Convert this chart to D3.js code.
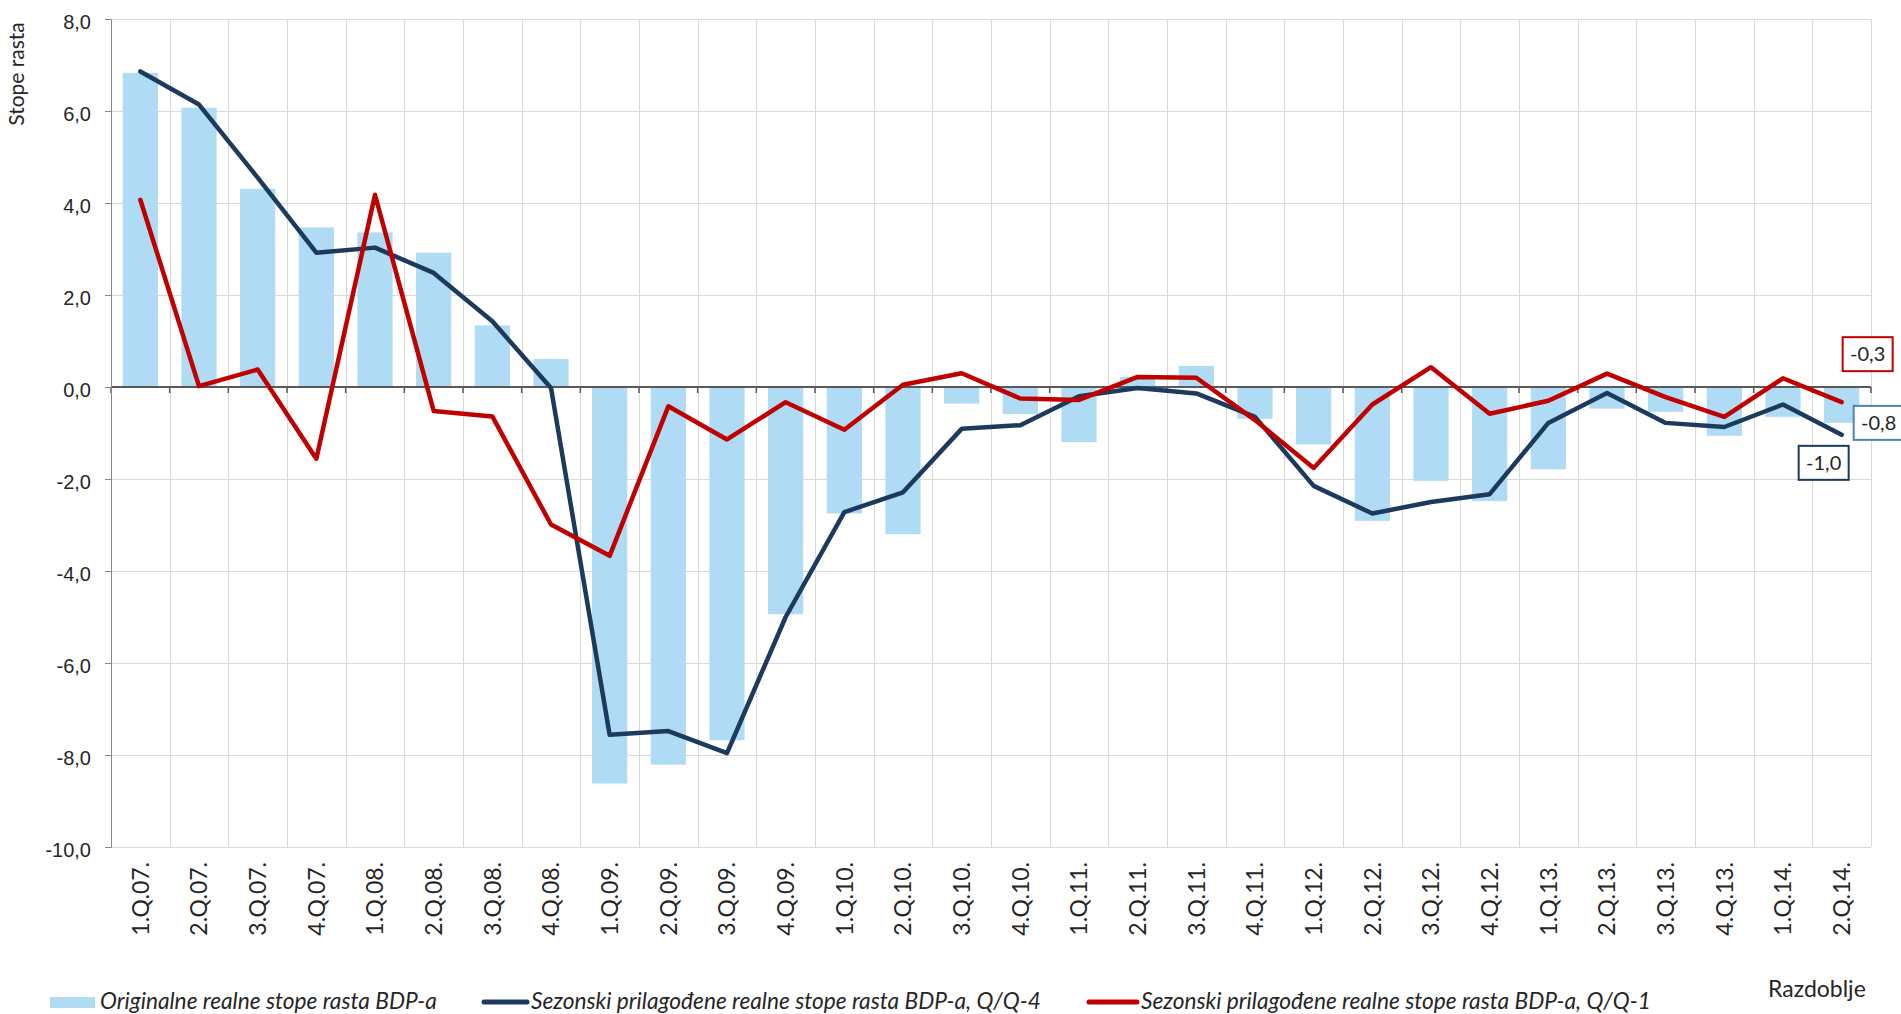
<!DOCTYPE html>
<html>
<head>
<meta charset="utf-8">
<script src="https://cdn.jsdelivr.net/npm/d3@7"></script>
<style>
  body { margin: 0; background: #fff; }
  svg { display: block; font-family: Lato, 'Noto Sans', sans-serif; }
  .tick-label { fill: #262626; font-size: 20px; }
  .x-label { fill: #262626; font-size: 23px; }
  .title-label { fill: #262626; font-size: 21px; }
  .legend-label { fill: #262626; font-size: 22.7px; font-style: italic; }
</style>
</head>
<body>
<div id="wrapper"></div>
<script>
const categories = [
  '1.Q.07.', '2.Q.07.', '3.Q.07.', '4.Q.07.',
  '1.Q.08.', '2.Q.08.', '3.Q.08.', '4.Q.08.',
  '1.Q.09.', '2.Q.09.', '3.Q.09.', '4.Q.09.',
  '1.Q.10.', '2.Q.10.', '3.Q.10.', '4.Q.10.',
  '1.Q.11.', '2.Q.11.', '3.Q.11.', '4.Q.11.',
  '1.Q.12.', '2.Q.12.', '3.Q.12.', '4.Q.12.',
  '1.Q.13.', '2.Q.13.', '3.Q.13.', '4.Q.13.',
  '1.Q.14.', '2.Q.14.',
]
// Originalne realne stope rasta BDP-a (bars)
const originalRates = [
  6.83, 6.07, 4.31, 3.47, 3.36, 2.92, 1.34, 0.61,
  -8.62, -8.21, -7.68, -4.94, -2.75, -3.2, -0.36, -0.59,
  -1.2, 0.22, 0.46, -0.69, -1.25, -2.91, -2.04, -2.48,
  -1.79, -0.47, -0.54, -1.06, -0.65, -0.78,
]
// Sezonski prilagođene, Q/Q-4
const yoyRates = [
  6.86, 6.14, 4.55, 2.92, 3.03, 2.48, 1.43, -0.02,
  -7.56, -7.48, -7.96, -5.0, -2.72, -2.29, -0.91, -0.83,
  -0.2, -0.02, -0.14, -0.65, -2.15, -2.75, -2.5, -2.33,
  -0.78, -0.13, -0.78, -0.87, -0.38, -1.04,
]
// Sezonski prilagođene, Q/Q-1
const qoqRates = [
  4.07, 0.02, 0.38, -1.56, 4.18, -0.52, -0.64, -2.99,
  -3.67, -0.42, -1.14, -0.33, -0.93, 0.05, 0.3, -0.25,
  -0.28, 0.22, 0.2, -0.72, -1.76, -0.38, 0.43, -0.58,
  -0.3, 0.29, -0.22, -0.65, 0.19, -0.33,
]
const yTicks = [-10, -8, -6, -4, -2, 0, 2, 4, 6, 8]

const seriesNames = [
  'Originalne realne stope rasta BDP-a',
  'Sezonski prilagođene realne stope rasta BDP-a, Q/Q-4',
  'Sezonski prilagođene realne stope rasta BDP-a, Q/Q-1',
]
const colors = { bar: '#afdbf5', yoy: '#1c3a5e', qoq: '#c00000', barLabel: '#4f81bd' }

function drawChart() {
  // 1. Data
  const dataset = categories.map((c, i) => ({
    cat: c,
    original: originalRates[i],
    yoy: yoyRates[i],
    qoq: qoqRates[i],
  }))
  const xAccessor = (d) => d.cat

  const locale = d3.formatLocale({
    decimal: ',', thousands: '.', grouping: [3], currency: ['', ''], minus: '-',
  })
  const fmt = locale.format('.1f')

  // 2. Dimensions
  let dimensions = {
    width: 1901,
    height: 1014,
    margin: { top: 19, right: 30, bottom: 167, left: 111 },
  }
  dimensions.boundedWidth = dimensions.width - dimensions.margin.left - dimensions.margin.right
  dimensions.boundedHeight = dimensions.height - dimensions.margin.top - dimensions.margin.bottom

  // 3. Canvas
  const wrapper = d3.select('#wrapper')
    .append('svg')
    .attr('width', dimensions.width)
    .attr('height', dimensions.height)

  const bounds = wrapper.append('g')
    .attr('transform', `translate(${dimensions.margin.left},${dimensions.margin.top})`)

  // 4. Scales
  const xScale = d3.scaleBand()
    .domain(categories)
    .range([0, dimensions.boundedWidth])
    .paddingInner(0.4)
    .paddingOuter(0.2)
  const step = xScale.step()
  const xCenter = (d) => xScale(xAccessor(d)) + xScale.bandwidth() / 2

  const yScale = d3.scaleLinear()
    .domain([-10, 8])
    .range([dimensions.boundedHeight, 0])

  // 5. Gridlines
  const boundaries = d3.range(categories.length + 1).map((i) => i * step)

  bounds.append('g')
    .selectAll('line')
    .data(yTicks)
    .join('line')
    .attr('x1', 0)
    .attr('x2', dimensions.boundedWidth)
    .attr('y1', (d) => Math.round(yScale(d)) + 0.5)
    .attr('y2', (d) => Math.round(yScale(d)) + 0.5)
    .attr('stroke', '#d9d9d9')

  bounds.append('g')
    .selectAll('line')
    .data(boundaries.slice(1))
    .join('line')
    .attr('x1', (d) => Math.round(d) + 0.5)
    .attr('x2', (d) => Math.round(d) + 0.5)
    .attr('y1', 0)
    .attr('y2', dimensions.boundedHeight)
    .attr('stroke', '#d9d9d9')

  // 6. Draw data
  bounds.append('g')
    .selectAll('rect')
    .data(dataset)
    .join('rect')
    .attr('x', (d) => xScale(xAccessor(d)))
    .attr('width', xScale.bandwidth())
    .attr('y', (d) => yScale(Math.max(0, d.original)))
    .attr('height', (d) => Math.abs(yScale(d.original) - yScale(0)))
    .attr('fill', colors.bar)

  // zero axis with ticks
  const zeroY = yScale(0)
  bounds.append('line')
    .attr('x1', 0)
    .attr('x2', dimensions.boundedWidth)
    .attr('y1', zeroY)
    .attr('y2', zeroY)
    .attr('stroke', '#595959')
    .attr('stroke-width', 2)
  bounds.append('g')
    .selectAll('line')
    .data(boundaries)
    .join('line')
    .attr('x1', (d) => d)
    .attr('x2', (d) => d)
    .attr('y1', zeroY)
    .attr('y2', zeroY + 6)
    .attr('stroke', '#595959')
    .attr('stroke-width', 1.5)

  const lineGenerator = (accessor) => d3.line()
    .x(xCenter)
    .y((d) => yScale(accessor(d)))

  bounds.append('path')
    .datum(dataset)
    .attr('d', lineGenerator((d) => d.yoy))
    .attr('fill', 'none')
    .attr('stroke', colors.yoy)
    .attr('stroke-width', 4.5)
    .attr('stroke-linejoin', 'round')
    .attr('stroke-linecap', 'round')

  bounds.append('path')
    .datum(dataset)
    .attr('d', lineGenerator((d) => d.qoq))
    .attr('fill', 'none')
    .attr('stroke', colors.qoq)
    .attr('stroke-width', 4.5)
    .attr('stroke-linejoin', 'round')
    .attr('stroke-linecap', 'round')

  // 7. Peripherals
  const yAxisGenerator = d3.axisLeft(yScale)
    .tickValues(yTicks)
    .tickSize(6)
    .tickPadding(14)
    .tickFormat(fmt)
  const yAxis = bounds.append('g').call(yAxisGenerator)
  yAxis.select('.domain').attr('stroke', '#868686')
  yAxis.selectAll('.tick line').attr('stroke', '#868686')
  yAxis.selectAll('.tick text')
    .attr('class', 'tick-label')
    .attr('font-family', null)
    .attr('font-size', null)
    .attr('dy', '0.45em')

  bounds.append('g')
    .selectAll('text')
    .data(dataset)
    .join('text')
    .attr('class', 'x-label')
    .attr('text-anchor', 'end')
    .attr('transform', (d) => `translate(${xCenter(d)},${dimensions.boundedHeight + 15}) rotate(-90)`)
    .attr('dy', '0.36em')
    .text(xAccessor)

  wrapper.append('text')
    .attr('class', 'title-label')
    .attr('text-anchor', 'middle')
    .attr('transform', 'translate(24,74) rotate(-90)')
    .text('Stope rasta')

  wrapper.append('text')
    .attr('class', 'x-label')
    .attr('x', 1768)
    .attr('y', 997)
    .text('Razdoblje')

  // data labels for the last quarter
  const last = dataset[dataset.length - 1]
  const lx = dimensions.margin.left + xCenter(last)
  const labels = [
    { value: last.qoq, color: colors.qoq, dx: 26, dy: -48 },
    { value: last.original, color: colors.barLabel, dx: 37, dy: 0 },
    { value: last.yoy, color: colors.yoy, dx: -18, dy: 28 },
  ]
  const labelGroups = wrapper.append('g')
    .selectAll('g')
    .data(labels)
    .join('g')
    .attr('transform', (d) => `translate(${lx + d.dx},${dimensions.margin.top + yScale(d.value) + d.dy})`)
  labelGroups.append('rect')
    .attr('x', -25)
    .attr('y', -17)
    .attr('width', 50)
    .attr('height', 34)
    .attr('fill', '#fff')
    .attr('stroke', (d) => d.color)
    .attr('stroke-width', 2)
  labelGroups.append('text')
    .attr('class', 'tick-label')
    .attr('text-anchor', 'middle')
    .attr('dy', '0.36em')
    .text((d) => fmt(d.value))

  // legend
  const legendY = 1002
  const legend = wrapper.append('g')
  legend.append('rect')
    .attr('x', 50)
    .attr('y', legendY - 5)
    .attr('width', 45)
    .attr('height', 11)
    .attr('fill', colors.bar)
  legend.append('line')
    .attr('x1', 484).attr('x2', 527)
    .attr('y1', legendY).attr('y2', legendY)
    .attr('stroke', colors.yoy).attr('stroke-width', 5).attr('stroke-linecap', 'round')
  legend.append('line')
    .attr('x1', 1089).attr('x2', 1137)
    .attr('y1', legendY).attr('y2', legendY)
    .attr('stroke', colors.qoq).attr('stroke-width', 5).attr('stroke-linecap', 'round')
  legend.selectAll('text')
    .data([100, 531, 1141])
    .join('text')
    .attr('class', 'legend-label')
    .attr('x', (d) => d)
    .attr('y', legendY + 7)
    .text((d, i) => seriesNames[i])
}
drawChart()
</script>
</body>
</html>
